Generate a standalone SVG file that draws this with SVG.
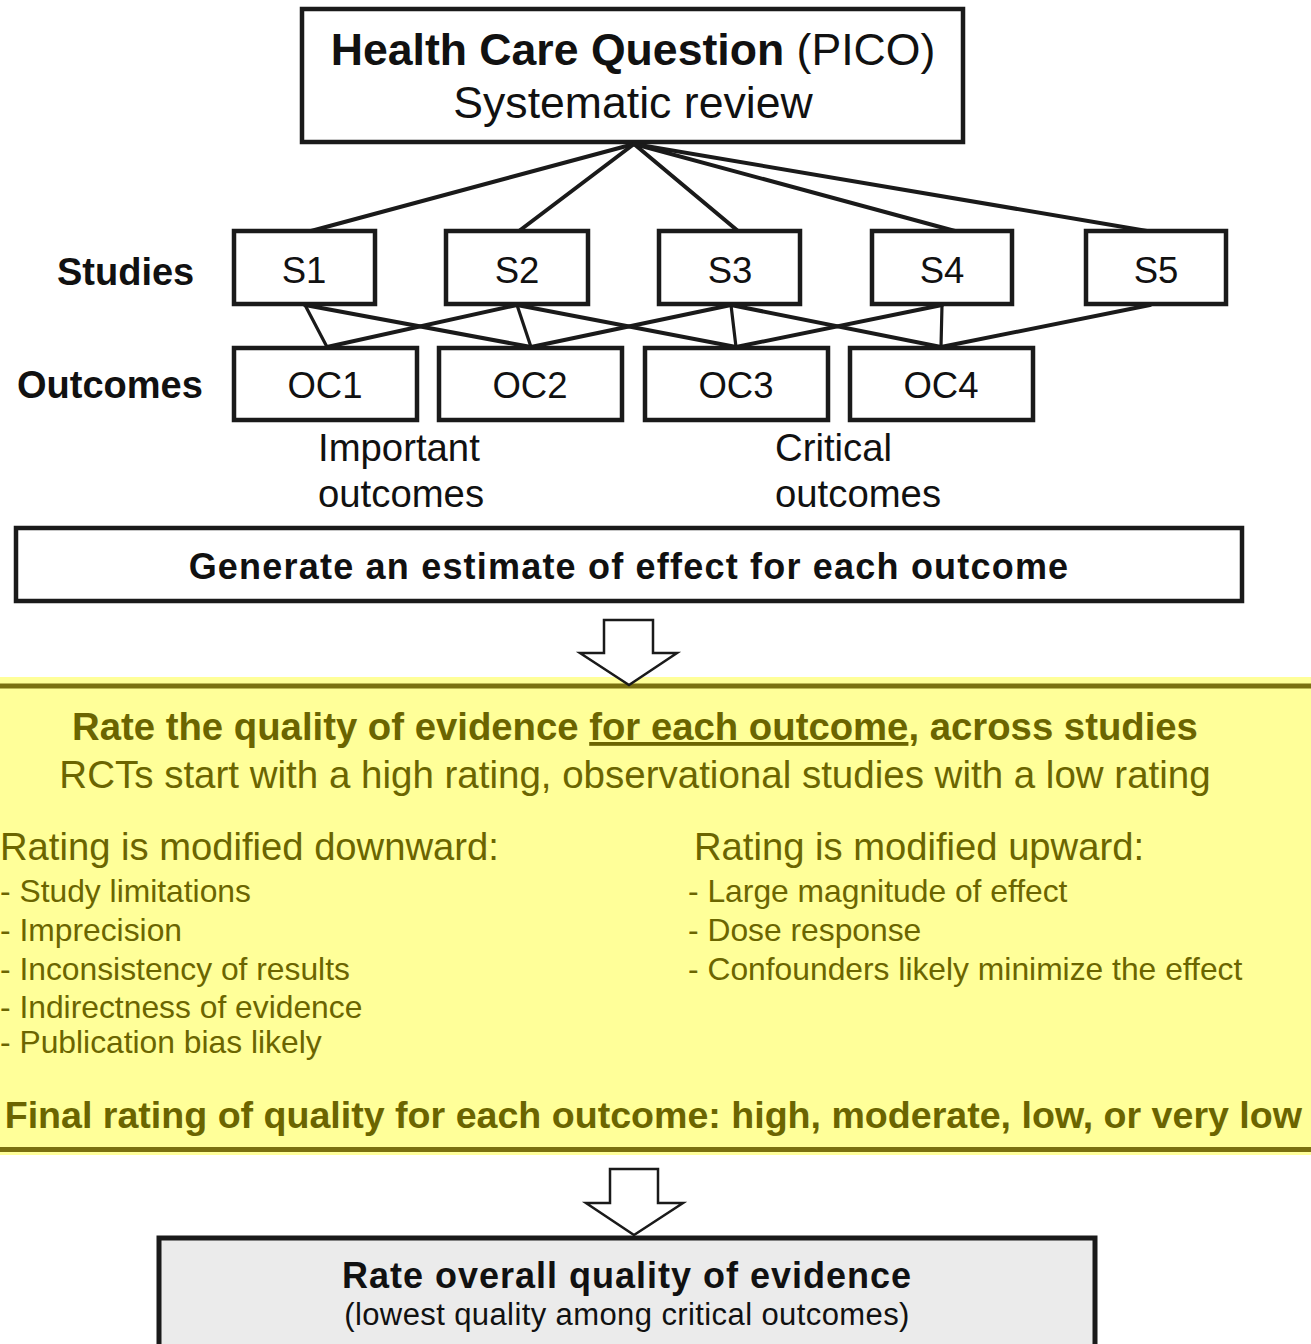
<svg xmlns="http://www.w3.org/2000/svg" width="1311" height="1344" viewBox="0 0 1311 1344">
  <style>
    text { font-family: "Liberation Sans", Arial, sans-serif; }
    .box { fill: #ffffff; stroke: #1a1a1a; stroke-width: 4.5; }
    .lbl { font-size: 36.5px; fill: #111; text-anchor: middle; }
    .side { font-size: 38px; font-weight: bold; fill: #111; }
    .note { font-size: 38.3px; fill: #111; }
    .conn line { stroke: #1a1a1a; stroke-width: 4; stroke-linecap: round; }
    .conn .thin { stroke-width: 3.2; }
    .arrow { fill: #ffffff; stroke: #1a1a1a; stroke-width: 2.5; stroke-linejoin: miter; }
    .olive { fill: #6b6500; }
    .oliveB { fill: #6b6500; font-weight: bold; }
    .item { font-size: 31.8px; }
    .head { font-size: 38.2px; }
    .rule { stroke: #7a7010; stroke-width: 5; }
  </style>

  <rect width="1311" height="1344" fill="#ffffff"/>

  <!-- question box -->
  <g id="question">
    <rect class="box" x="302" y="9" width="661" height="133"/>
    <text x="633" y="65" text-anchor="middle" font-size="44.6" fill="#111"><tspan font-weight="bold">Health Care Question</tspan> (PICO)</text>
    <text x="633" y="118" text-anchor="middle" font-size="44.6" fill="#111">Systematic review</text>
  </g>

  <!-- connectors -->
  <g id="connectors" class="conn">
    <line x1="634" y1="144" x2="311" y2="231"/>
    <line x1="634" y1="144" x2="519" y2="231"/>
    <line x1="634" y1="144" x2="738" y2="231"/>
    <line x1="634" y1="144" x2="955" y2="231"/>
    <line x1="634" y1="144" x2="1147" y2="231"/>

    <line class="thin" x1="305" y1="305" x2="327" y2="347"/>
    <line x1="305" y1="305" x2="531" y2="347"/>
    <line x1="517" y1="305" x2="327" y2="347"/>
    <line class="thin" x1="517" y1="305" x2="531" y2="347"/>
    <line x1="517" y1="305" x2="736" y2="347"/>
    <line x1="731" y1="305" x2="531" y2="347"/>
    <line class="thin" x1="731" y1="305" x2="736" y2="347"/>
    <line x1="731" y1="305" x2="941" y2="347"/>
    <line x1="942" y1="305" x2="736" y2="347"/>
    <line class="thin" x1="942" y1="305" x2="941" y2="347"/>
    <line x1="1150" y1="305" x2="941" y2="347"/>
  </g>

  <!-- row labels -->
  <g id="row-labels">
    <text class="side" x="57" y="285">Studies</text>
    <text class="side" x="17" y="398">Outcomes</text>
  </g>

  <!-- studies -->
  <g id="s1"><rect class="box" x="234" y="231" width="141" height="73"/><text class="lbl" x="304" y="283">S1</text></g>
  <g id="s2"><rect class="box" x="446" y="231" width="142" height="73"/><text class="lbl" x="517" y="283">S2</text></g>
  <g id="s3"><rect class="box" x="659" y="231" width="141" height="73"/><text class="lbl" x="730" y="283">S3</text></g>
  <g id="s4"><rect class="box" x="872" y="231" width="140" height="73"/><text class="lbl" x="942" y="283">S4</text></g>
  <g id="s5"><rect class="box" x="1086" y="231" width="140" height="73"/><text class="lbl" x="1156" y="283">S5</text></g>

  <!-- outcomes -->
  <g id="oc1"><rect class="box" x="234" y="348" width="183" height="72"/><text class="lbl" x="325" y="398">OC1</text></g>
  <g id="oc2"><rect class="box" x="439" y="348" width="183" height="72"/><text class="lbl" x="530" y="398">OC2</text></g>
  <g id="oc3"><rect class="box" x="645" y="348" width="183" height="72"/><text class="lbl" x="736" y="398">OC3</text></g>
  <g id="oc4"><rect class="box" x="850" y="348" width="183" height="72"/><text class="lbl" x="941" y="398">OC4</text></g>

  <g id="outcome-notes">
    <text class="note" x="318" y="461">Important</text>
    <text class="note" x="318" y="507">outcomes</text>
    <text class="note" x="775" y="461">Critical</text>
    <text class="note" x="775" y="507">outcomes</text>
  </g>

  <!-- estimate box -->
  <g id="estimate">
    <rect class="box" x="16" y="528" width="1226" height="73"/>
    <text x="629" y="579" text-anchor="middle" font-size="36" font-weight="bold" fill="#111" letter-spacing="1.2">Generate an estimate of effect for each outcome</text>
  </g>

  <!-- rating panel -->
  <g id="rating">
    <rect x="0" y="677" width="1311" height="478" fill="#ffff99"/>
    <line class="rule" x1="0" y1="686" x2="1311" y2="686"/>
    <line class="rule" x1="0" y1="1149.5" x2="1311" y2="1149.5"/>
    <text class="oliveB" x="635" y="740" text-anchor="middle" font-size="38.3">Rate the quality of evidence <tspan text-decoration="underline">for each outcome</tspan>, across studies</text>
    <text class="olive" x="635" y="788" text-anchor="middle" font-size="38.5">RCTs start with a high rating, observational studies with a low rating</text>

    <text class="olive head" x="0" y="860">Rating is modified downward:</text>
    <text class="olive item" x="0" y="902">- Study limitations</text>
    <text class="olive item" x="0" y="941">- Imprecision</text>
    <text class="olive item" x="0" y="980">- Inconsistency of results</text>
    <text class="olive item" x="0" y="1018">- Indirectness of evidence</text>
    <text class="olive item" x="0" y="1053">- Publication bias likely</text>

    <text class="olive head" x="694" y="860">Rating is modified upward:</text>
    <text class="olive item" x="688" y="902">- Large magnitude of effect</text>
    <text class="olive item" x="688" y="941">- Dose response</text>
    <text class="olive item" x="688" y="980">- Confounders likely minimize the effect</text>

    <text class="oliveB" x="1302" y="1128" text-anchor="end" font-size="37.6">Final rating of quality for each outcome: high, moderate, low, or very low</text>
  </g>

  <!-- flow arrows -->
  <g id="arrow-1">
    <polygon class="arrow" points="604,620 653,620 653,653 677,653 629,685 580,653 604,653"/>
  </g>
  <g id="arrow-2">
    <polygon class="arrow" points="610,1169 658,1169 658,1203 683,1203 634,1235 586,1203 610,1203"/>
  </g>

  <!-- overall box -->
  <g id="overall">
    <rect x="159" y="1238" width="936" height="120" fill="#ebebeb" stroke="#1a1a1a" stroke-width="5"/>
    <text x="627" y="1288" text-anchor="middle" font-size="36" font-weight="bold" fill="#111" letter-spacing="1">Rate overall quality of evidence</text>
    <text x="627" y="1325" text-anchor="middle" font-size="31" fill="#111" letter-spacing="0.4">(lowest quality among critical outcomes)</text>
  </g>
</svg>
